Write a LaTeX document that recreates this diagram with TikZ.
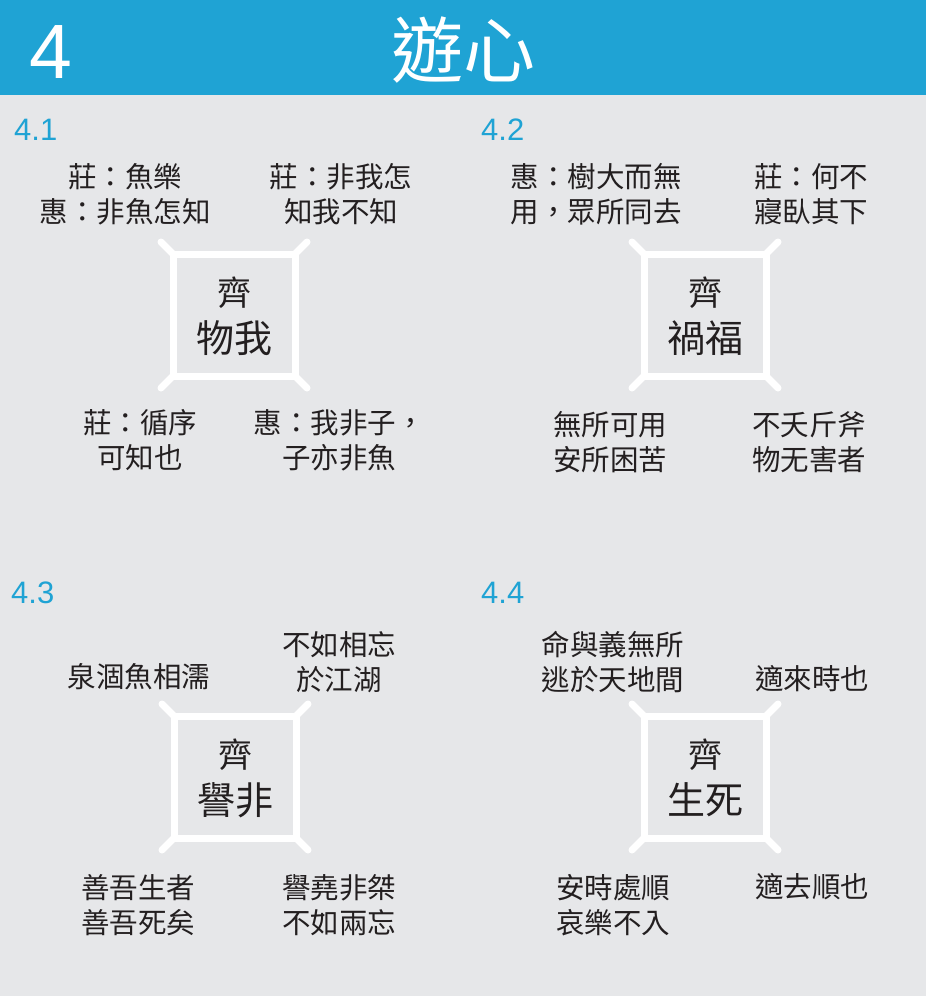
\documentclass[tikz,border=0pt]{standalone}
\usepackage{fontspec}
\setmainfont{Liberation Sans}
\newfontfamily\cjk{Noto Sans CJK TC}
\definecolor{hdrblue}{HTML}{1FA3D4}
\definecolor{bggrey}{HTML}{E6E7E9}
\definecolor{inkc}{HTML}{231F20}
\begin{document}
\begin{tikzpicture}[x=1pt,y=-1pt,
  side/.style={font=\cjk\fontsize{28.5}{35}\selectfont, text=inkc, align=center, inner sep=0pt},
  boxsq/.style={draw=white, line width=7pt, minimum size=122pt, inner sep=0pt, outer sep=0pt},
  arm/.style={draw=white, line width=7pt, line cap=round},
  qi/.style={font=\cjk\fontsize{34}{34}\selectfont, text=inkc, inner sep=0pt},
  pairtxt/.style={font=\cjk\fontsize{38}{38}\selectfont, text=inkc, inner sep=0pt},
  sec/.style={font=\fontsize{31}{31}\selectfont, text=hdrblue, anchor=base west, inner sep=0pt}]
\path[use as bounding box, fill=bggrey] (0,0) rectangle (926,996);
\fill[hdrblue] (0,0) rectangle (926,95);
\node[font=\fontsize{77}{77}\selectfont, text=white, anchor=base west, inner sep=0pt] (num) at (29,78) {4};
\node[font=\cjk\fontsize{72}{72}\selectfont, text=white, inner sep=0pt] (title) at (463,50) {遊心};

% section labels
\node[sec] (s1) at (14,140) {4.1};
\node[sec] (s2) at (481,140) {4.2};
\node[sec] (s3) at (11,603) {4.3};
\node[sec] (s4) at (481,603) {4.4};

% boxes
\foreach \b/\x/\y in {b1/234/315, b2/705/315, b3/235/777, b4/705/777} {
  \node[boxsq] (\b) at (\x,\y) {};
  \foreach \a/\dx/\dy in {north west/-12/-12, north east/12/-12, south west/-12/12, south east/12/12} {
    \draw[arm] (\b.\a) -- ++(\dx,\dy);
  }
}

% box texts
\node[qi] (q1) at (234,293) {齊};
\node[pairtxt] (p1) at (234,338) {物我};
\node[qi] (q2) at (705,293) {齊};
\node[pairtxt] (p2) at (705,338) {禍福};
\node[qi] (q3) at (235,755) {齊};
\node[pairtxt] (p3) at (235,800) {譽非};
\node[qi] (q4) at (705,755) {齊};
\node[pairtxt] (p4) at (705,800) {生死};

% 4.1
\node[side] (t11) at (125,194) {莊：魚樂\\惠：非魚怎知};
\node[side] (t12) at (341,194) {莊：非我怎\\知我不知};
\node[side] (t13) at (140,440) {莊：循序\\可知也};
\node[side] (t14) at (339,440) {惠：我非子，\\子亦非魚};
% 4.2
\node[side] (t21) at (596,194) {惠：樹大而無\\用，眾所同去};
\node[side] (t22) at (811,194) {莊：何不\\寢臥其下};
\node[side] (t23) at (610,442) {無所可用\\安所困苦};
\node[side] (t24) at (809,442) {不夭斤斧\\物无害者};
% 4.3
\node[side] (t31) at (139,677) {泉涸魚相濡};
\node[side] (t32) at (339,662) {不如相忘\\於江湖};
\node[side] (t33) at (138,905) {善吾生者\\善吾死矣};
\node[side] (t34) at (339,905) {譽堯非桀\\不如兩忘};
% 4.4
\node[side] (t41) at (613,662) {命與義無所\\逃於天地間};
\node[side] (t42) at (812,679) {適來時也};
\node[side] (t43) at (613,905) {安時處順\\哀樂不入};
\node[side] (t44) at (812,887) {適去順也};
\end{tikzpicture}
\end{document}
